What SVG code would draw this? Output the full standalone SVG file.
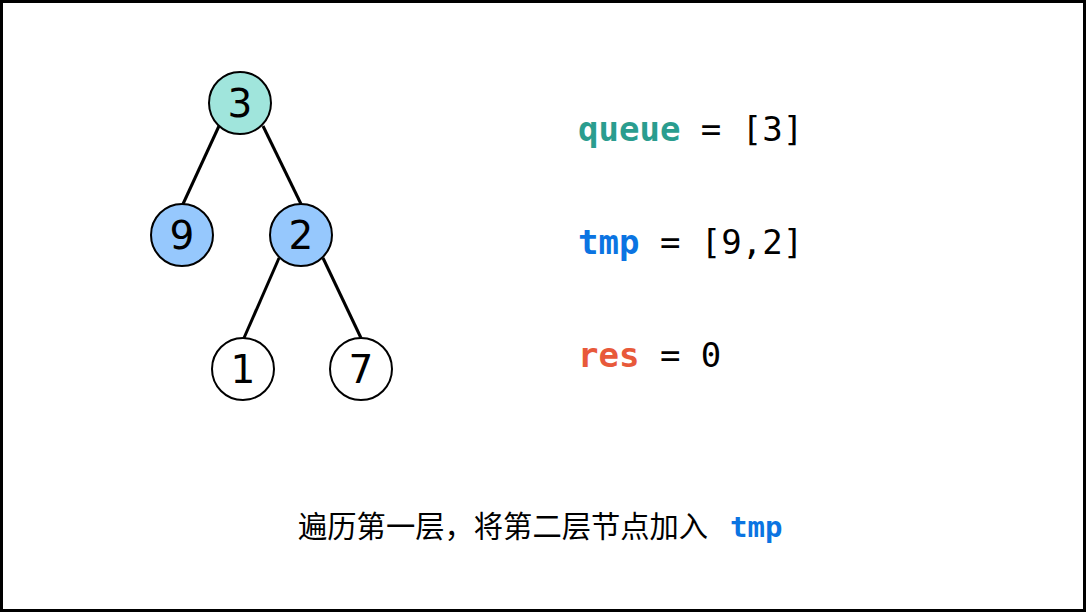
<svg xmlns="http://www.w3.org/2000/svg" width="1086" height="612" viewBox="0 0 1086 612">
<style>
.n{stroke:#000;stroke-width:2}
.d{font-family:"DejaVu Sans",sans-serif;font-size:39px;text-anchor:middle;fill:#000}
.m{font-family:"DejaVu Sans Mono",monospace;font-size:34px;fill:#000}
.b{font-weight:bold}
.e{stroke:#000;stroke-width:3;fill:none}
</style>
<rect x="1.5" y="1.5" width="1083" height="609" fill="#fff" stroke="#000" stroke-width="3"/>
<g id="edges">
<line class="e" x1="219" y1="126" x2="183" y2="204"/>
<line class="e" x1="263" y1="126" x2="301" y2="204"/>
<line class="e" x1="279" y1="258" x2="244" y2="338"/>
<line class="e" x1="323" y1="258" x2="361" y2="338"/>
</g>
<g id="n3"><circle class="n" cx="240" cy="103" r="31" fill="#a0e5dc"/><text class="d" x="240" y="117">3</text></g>
<g id="n9"><circle class="n" cx="182" cy="235" r="31" fill="#96c8fd"/><text class="d" x="182" y="249">9</text></g>
<g id="n2"><circle class="n" cx="301" cy="235" r="31" fill="#96c8fd"/><text class="d" x="301" y="249">2</text></g>
<g id="n1"><circle class="n" cx="243" cy="369" r="31" fill="#fff"/><text class="d" x="243" y="383">1</text></g>
<g id="n7"><circle class="n" cx="361" cy="369" r="31" fill="#fff"/><text class="d" x="361" y="383">7</text></g>
<g id="vars">
<text class="m" x="578" y="141"><tspan class="b" fill="#2a9d8f">queue</tspan> = [3]</text>
<text class="m" x="578" y="254"><tspan class="b" fill="#0b74e2">tmp</tspan> = [9,2]</text>
<text class="m" x="578" y="367"><tspan class="b" fill="#e8593a">res</tspan> = 0</text>
</g>
<text x="298" y="537" font-family="'Noto Sans CJK SC',sans-serif" font-size="29.3" fill="#000">遍历第一层，将第二层节点加入<tspan x="730" font-family="'DejaVu Sans Mono',monospace" font-size="29" font-weight="bold" fill="#0b74e2">tmp</tspan></text>
</svg>
